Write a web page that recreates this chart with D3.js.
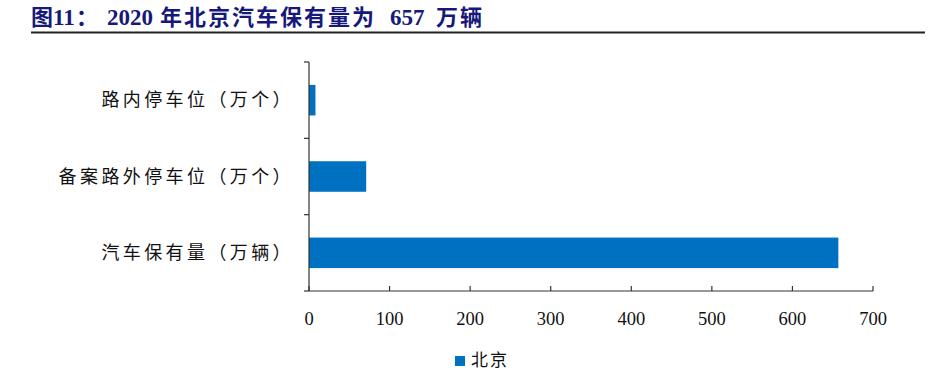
<!DOCTYPE html>
<html><head><meta charset="utf-8">
<script src="https://cdn.jsdelivr.net/npm/d3@7"></script>
<style>body{margin:0;background:#fff;}svg{display:block;}</style>
</head><body>
<svg id="c" width="930" height="381"></svg>
<script>
const categories = ["路内停车位（万个）", "备案路外停车位（万个）", "汽车保有量（万辆）"];
const values = [8, 71, 657];
const xTicks = [0, 100, 200, 300, 400, 500, 600, 700];
const seriesName = "北京";
const titleParts = [
  {t: "图", x: 31, latin: false},
  {t: "11", x: 53, latin: true},
  {t: "：", x: 76, latin: false},
  {t: "2020", x: 107, latin: true},
  {t: "年北京汽车保有量为", x: 160, latin: false},
  {t: "657", x: 390, latin: true},
  {t: "万辆", x: 436, latin: false}
];

const svg = d3.select("#c");
const color = "#0070C0";
const m = {left: 309, right: 873, top: 62, bottom: 291};

// title
const title = svg.append("text").attr("y", 25).attr("font-weight", "bold").attr("fill", "#16197a");
titleParts.forEach(p => {
  title.append("tspan").attr("x", p.x)
    .attr("font-family", p.latin ? "'Liberation Serif',serif" : "'Noto Sans CJK SC',sans-serif")
    .attr("font-size", p.latin ? 23 : 22)
    .attr("letter-spacing", p.latin ? "0px" : "2px")
    .text(p.t);
});
svg.append("line").attr("x1", 31).attr("x2", 925).attr("y1", 32.5).attr("y2", 32.5)
  .attr("stroke", "#222").attr("stroke-width", 2);

const x = d3.scaleLinear().domain([0, 700]).range([m.left, m.right]);
const y = d3.scaleBand().domain(categories).range([m.top, m.bottom]).paddingInner(0.6).paddingOuter(0.3);

// bars
svg.append("g").selectAll("rect").data(categories).join("rect")
  .attr("x", x(0)).attr("y", d => y(d))
  .attr("width", (d, i) => x(values[i]) - x(0))
  .attr("height", y.bandwidth()).attr("fill", color);

// y axis
const step = (m.bottom - m.top) / categories.length;
const yg = svg.append("g");
yg.append("line").attr("x1", m.left).attr("x2", m.left).attr("y1", m.top).attr("y2", m.bottom)
  .attr("stroke", "#333").attr("stroke-width", 1.2);
d3.range(categories.length + 1).forEach(i => {
  yg.append("line").attr("x1", m.left - 5).attr("x2", m.left).attr("y1", m.top + i * step).attr("y2", m.top + i * step)
    .attr("stroke", "#333").attr("stroke-width", 1.2);
});
yg.selectAll("text").data(categories).join("text")
  .attr("x", 294).attr("y", d => y(d) + y.bandwidth() / 2)
  .attr("dy", "0.35em").attr("text-anchor", "end")
  .attr("font-family", "'Noto Sans CJK SC',sans-serif").attr("font-size", 18)
  .attr("letter-spacing", "3.4px").attr("fill", "#111")
  .text(d => d);

// x axis
const xg = svg.append("g");
xg.append("line").attr("x1", m.left).attr("x2", m.right).attr("y1", m.bottom).attr("y2", m.bottom)
  .attr("stroke", "#333").attr("stroke-width", 1.2);
xg.selectAll("line.t").data(xTicks).join("line").attr("class", "t")
  .attr("x1", d => x(d)).attr("x2", d => x(d)).attr("y1", m.bottom - 5).attr("y2", m.bottom)
  .attr("stroke", "#333").attr("stroke-width", 1.2);
xg.selectAll("text").data(xTicks).join("text")
  .attr("x", d => x(d)).attr("y", 325).attr("text-anchor", "middle")
  .attr("font-family", "'Liberation Serif',serif").attr("font-size", 18.5).attr("fill", "#111")
  .text(d => d);

// legend
svg.append("rect").attr("x", 455).attr("y", 356).attr("width", 10).attr("height", 10).attr("fill", color);
svg.append("text").attr("x", 471).attr("y", 366).attr("font-family", "'Noto Sans CJK SC',sans-serif")
  .attr("font-size", 17).attr("letter-spacing", "2px").attr("fill", "#111").text(seriesName);
</script>
</body></html>
